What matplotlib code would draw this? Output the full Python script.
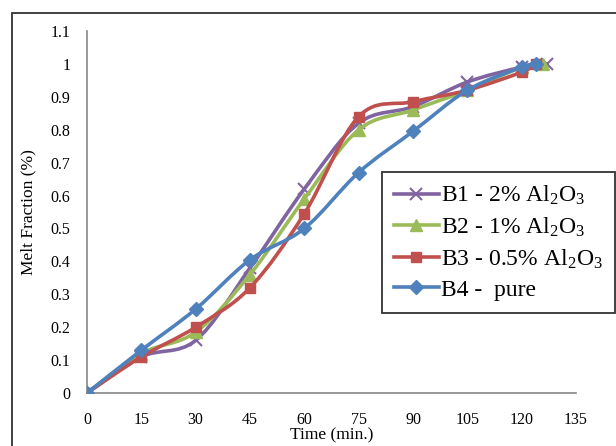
import numpy as np
import matplotlib
matplotlib.use('Agg')
import matplotlib.pyplot as plt
from matplotlib.path import Path
from matplotlib.patches import PathPatch, Rectangle

plt.rcParams['font.family'] = ['Liberation Serif', 'DejaVu Serif']
plt.rcParams['mathtext.fontset'] = 'custom'
plt.rcParams['mathtext.rm'] = 'Liberation Serif'

# 數據
t_b1 = [0, 15, 30, 45, 60, 75, 90, 105, 120, 127]
b1 = [0, 0.11, 0.16, 0.38, 0.62, 0.82, 0.87, 0.945, 0.99, 1.0]
t_b2 = [0, 15, 30, 45, 60, 75, 90, 105, 120, 126]
b2 = [0, 0.12, 0.185, 0.36, 0.59, 0.80, 0.86, 0.92, 0.99, 1.0]
t_b3 = [0, 15, 30, 45, 60, 75, 90, 105, 120, 124]
b3 = [0, 0.11, 0.20, 0.32, 0.545, 0.84, 0.885, 0.92, 0.975, 1.0]
t_b4 = [0, 15, 30, 45, 60, 75, 90, 105, 120, 124]
b4 = [0, 0.13, 0.255, 0.405, 0.50, 0.67, 0.795, 0.92, 0.99, 1.0]

labels = [r'B1 - 2% Al$\mathregular{_2}$O$\mathregular{_3}$',
          r'B2 - 1% Al$\mathregular{_2}$O$\mathregular{_3}$',
          r'B3 - 0.5% Al$\mathregular{_2}$O$\mathregular{_3}$',
          'B4 -  pure']
colors = ['#8064A2', '#9BBB59', '#C0504D', '#4F81BD']
markers = ['x', '^', 's', 'D']
msizes = [8, 8, 7, 7]


def smooth_path(x, y):
    # Excel 式平滑線: 用 Bezier 曲線連接各點
    x = np.asarray(x, float)
    y = np.asarray(y, float)
    n = len(x)
    verts = [(x[0], y[0])]
    codes = [Path.MOVETO]
    for i in range(n - 1):
        i0 = max(i - 1, 0)
        i3 = min(i + 2, n - 1)
        c1 = (x[i] + (x[i + 1] - x[i0]) / 6, y[i] + (y[i + 1] - y[i0]) / 6)
        c2 = (x[i + 1] - (x[i3] - x[i]) / 6, y[i + 1] - (y[i3] - y[i]) / 6)
        verts += [c1, c2, (x[i + 1], y[i + 1])]
        codes += [Path.CURVE4] * 3
    return Path(verts, codes)


fig = plt.figure(figsize=(6.16, 4.46), dpi=100)
ax = fig.add_axes([87 / 616, 53 / 446, 489 / 616, 362 / 446])

series = [(t_b1, b1), (t_b2, b2), (t_b3, b3), (t_b4, b4)]
for k, (t, v) in enumerate(series):
    ax.add_patch(PathPatch(smooth_path(t, v), facecolor='none',
                           edgecolor=colors[k], lw=2.6, zorder=2 + k))
    ax.plot(t, v, linestyle='none', marker=markers[k], ms=msizes[k],
            color=colors[k], mew=1.5 if markers[k] == 'x' else 1,
            zorder=2 + k)
    # 圖例用
    ax.plot([], [], color=colors[k], lw=2.6, marker=markers[k],
            ms=msizes[k], mew=1.5 if markers[k] == 'x' else 1,
            label=labels[k])

ax.set_xlim(0, 135)
ax.set_ylim(0, 1.1)
ax.set_xticks(np.arange(0, 136, 15))
ax.set_yticks(np.arange(0, 1.11, 0.1))
ax.set_yticklabels(['0', '0.1', '0.2', '0.3', '0.4', '0.5', '0.6', '0.7',
                    '0.8', '0.9', '1', '1.1'])
ax.tick_params(axis='x', length=0, labelsize=11.5, pad=14)
ax.tick_params(axis='y', length=0, labelsize=11.5, pad=12)
for s in ['top', 'right']:
    ax.spines[s].set_visible(False)
for s in ['left', 'bottom']:
    ax.spines[s].set_color('#888888')
    ax.spines[s].set_linewidth(1.2)

ax.set_xlabel('Time (min.)', fontsize=12.5, labelpad=-1)
ax.set_ylabel('Melt Fraction (%)', fontsize=12.5, labelpad=10)

leg = ax.legend(loc='upper left', bbox_to_anchor=(382 / 616, 1 - 172 / 446),
                bbox_transform=fig.transFigure, fontsize=17, frameon=True,
                fancybox=False, handlelength=1.9, handletextpad=0.1,
                labelspacing=0.36, borderpad=0.5, borderaxespad=0)
leg.get_frame().set_edgecolor('black')
leg.get_frame().set_linewidth(1.3)

# 外框
fig.patches.append(Rectangle((12 / 616, -0.1), 1.0, 1.1 - 13 / 446,
                             transform=fig.transFigure, fill=False,
                             edgecolor='#333333', lw=1.3))

fig.savefig('out.png', dpi=100)
